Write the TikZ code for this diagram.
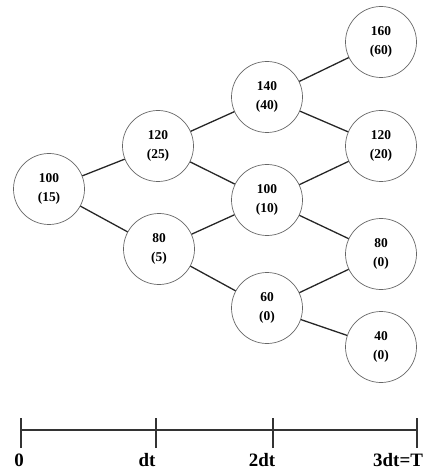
\documentclass[tikz,border=0pt]{standalone}
\usepackage{fontspec}
\setmainfont{Liberation Serif}
\begin{document}
\begin{tikzpicture}[x=1bp,y=-1bp,
  state/.style={circle,draw=black!60,line width=0.7bp,minimum size=71bp,inner sep=0pt,
    align=center,font=\fontsize{13.5}{19}\selectfont\bfseries},
  link/.style={draw=black!85,line width=1.3bp},
  axis/.style={draw=black!80,line width=1.5bp},
  tlabel/.style={font=\fontsize{19}{20}\selectfont\bfseries,inner sep=0pt}]
\useasboundingbox (0,0) rectangle (423,470);
\node[state] (a) at (49,189) {100\\(15)};
\node[state] (b1) at (158,146) {120\\(25)};
\node[state] (b2) at (159,249) {80\\(5)};
\node[state] (c1) at (267,97) {140\\(40)};
\node[state] (c2) at (267,200) {100\\(10)};
\node[state] (c3) at (267,308) {60\\(0)};
\node[state] (d1) at (381,42) {160\\(60)};
\node[state] (d2) at (381,146) {120\\(20)};
\node[state] (d3) at (381,254) {80\\(0)};
\node[state] (d4) at (381,347) {40\\(0)};
\draw[link] (a) -- (b1);
\draw[link] (a) -- (b2);
\draw[link] (b1) -- (c1);
\draw[link] (b1) -- (c2);
\draw[link] (b2) -- (c2);
\draw[link] (b2) -- (c3);
\draw[link] (c1) -- (d1);
\draw[link] (c1) -- (d2);
\draw[link] (c2) -- (d2);
\draw[link] (c2) -- (d3);
\draw[link] (c3) -- (d3);
\draw[link] (c3) -- (d4);
% time axis
\coordinate (t0) at (21,430);
\coordinate (t1) at (156,430);
\coordinate (t2) at (273,430);
\coordinate (t3) at (417,430);
\draw[axis] (t0) -- (t3);
\foreach \t in {t0,t1,t2,t3} \draw[axis] ([yshift=-18bp]\t) -- ([yshift=12bp]\t);
\node[tlabel,anchor=base] (l0) at (19,466) {0};
\node[tlabel,anchor=base] (l1) at (147,466) {dt};
\node[tlabel,anchor=base] (l2) at (262,466) {2dt};
\node[tlabel,anchor=base west] (l3) at (373,466) {3dt=T};
\end{tikzpicture}
\end{document}
